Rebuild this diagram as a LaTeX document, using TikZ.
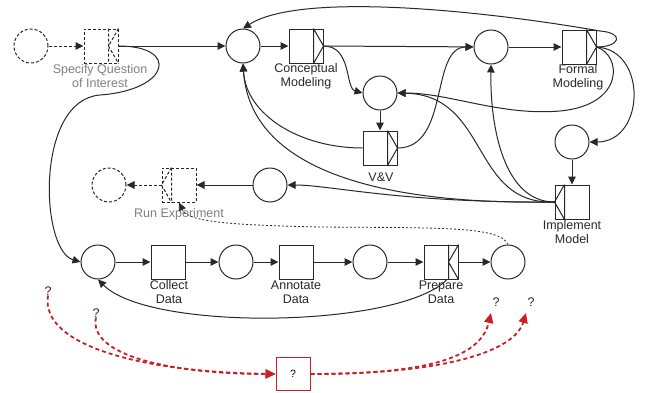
\documentclass[tikz,border=0pt]{standalone}
\usepackage{fontspec}
\setmainfont{Liberation Sans}
\usetikzlibrary{arrows.meta}
\definecolor{ink}{RGB}{40,40,40}
\definecolor{redc}{RGB}{200,32,38}
\definecolor{greyt}{RGB}{128,128,128}
\newcommand\decRt[2][]{\draw[ink,line width=1pt,#1] ([xshift=-10pt]#2.north east) -- ([xshift=-10pt]#2.south east) ([xshift=-10pt]#2.north east) -- (#2.east) -- ([xshift=-10pt]#2.south east);}
\newcommand\decLt[2][]{\draw[ink,line width=1pt,#1] ([xshift=10pt]#2.north west) -- ([xshift=10pt]#2.south west) ([xshift=10pt]#2.north west) -- (#2.west) -- ([xshift=10pt]#2.south west);}
\newcommand\decKt[2][]{\draw[ink,line width=1pt,#1] ([xshift=-10pt]#2.north east) -- ([xshift=-10pt]#2.south east) (#2.north east) -- ([xshift=-10pt]#2.east) -- (#2.south east);}
\begin{document}
\begin{tikzpicture}[x=1pt,y=-1pt,
  circ/.style={circle,draw=ink,line width=1pt,minimum size=34pt,inner sep=0pt},
  dcirc/.style={circ,dash pattern=on 3pt off 2pt},
  boxn/.style={rectangle,draw=ink,line width=1pt,minimum size=34pt,inner sep=0pt},
  dbox/.style={boxn,dash pattern=on 3pt off 2pt},
  qbox/.style={rectangle,draw=redc,line width=1pt,minimum width=34pt,minimum height=33pt,inner sep=0pt,font=\fontsize{10.5}{12}\selectfont},
  lbl/.style={font=\fontsize{12.5}{14}\selectfont,align=center,text=ink,inner sep=0pt},
  conn/.style={draw=ink,line width=1pt,-{Triangle[length=8pt,width=7.5pt]}},
  dconn/.style={conn,dash pattern=on 3pt off 2pt},
  dotconn/.style={conn,line width=0.8pt,dash pattern=on 2pt off 2pt},
  rconn/.style={draw=redc,line width=1.8pt,dash pattern=on 4pt off 3pt,-{Triangle[length=10pt,width=9pt]}}]
\useasboundingbox (0,0) rectangle (646,392);
% nodes
\node[dcirc] (s0) at (31,46) {};
\node[dbox] (spec) at (101,46) {};
\node[circ] (c1) at (243,46) {};
\node[boxn] (cm) at (306,46) {};
\node[circ] (c2) at (491,47) {};
\node[boxn] (fm) at (579,47) {};
\node[circ] (vin) at (380,93) {};
\node[boxn] (vv) at (380,148) {};
\node[circ] (c3) at (572,142) {};
\node[boxn] (im) at (572,202) {};
\node[circ] (c4) at (270,185) {};
\node[dbox] (run) at (179,185) {};
\node[dcirc] (e0) at (109,185) {};
\node[circ] (d1) at (98,262) {};
\node[boxn] (cd) at (168,262) {};
\node[circ] (d2) at (236,262) {};
\node[boxn] (ad) at (296,262) {};
\node[circ] (d3) at (370,262) {};
\node[boxn] (pd) at (441,262) {};
\node[circ] (d4) at (508,262) {};
\node[qbox] (qb) at (293,374) {?};
% compartments
\decKt[dash pattern=on 3pt off 2pt]{spec}
\decRt{cm}
\decRt{fm}
\decRt{vv}
\decLt{im}
\decLt[dash pattern=on 3pt off 2pt]{run}
\decKt{pd}
% labels
\node[lbl,text=greyt] (lspec) at (100,76) {Specify Question\\of Interest};
\node[lbl] (lcm) at (306,76) {Conceptual\\Modeling};
\node[lbl] (lfm) at (578,77) {Formal\\Modeling};
\node[lbl] (lvv) at (381,177) {V\&V};
\node[lbl] (lim) at (572,232) {Implement\\Model};
\node[lbl,text=greyt] (lrun) at (179,214) {Run Experiment};
\node[lbl] (lcd) at (169,292) {Collect\\Data};
\node[lbl] (lad) at (296,292) {Annotate\\Data};
\node[lbl] (lpd) at (441,292) {Prepare\\Data};
\node[lbl] (q1) at (48,291) {?};
\node[lbl] (q2) at (96,313) {?};
\node[lbl] (q3) at (496,302) {?};
\node[lbl] (q4) at (531,302) {?};
\coordinate (t3) at (491,313);
\coordinate (t4) at (526,313);
% connectors
\draw[dconn] (s0) -- (spec);
\draw[conn] (spec.east) -- (c1);
\draw[conn] (c1) -- (cm);
\draw[conn] (cm.east) -- (c2);
\draw[conn] (cm.east) .. controls (352,46) and (345,88) .. (vin.west);
\draw[conn] (c2) -- (fm);
\draw[conn] (fm.east) .. controls (620,47) and (625,33) .. (600,31) .. controls (480,10) and (300,-8) .. (c1.north);
\draw[conn] (fm.east) .. controls (622,55) and (625,105) .. (560,111) .. controls (500,116) and (450,93) .. (vin.east);
\draw[conn] (fm.east) .. controls (648,50) and (645,142) .. (c3.east);
\draw[conn] (c3) -- (im);
\draw[conn] (im.west) .. controls (505,202) and (490,130) .. (c2.south);
\draw[conn] (im.west) .. controls (470,205) and (490,95) .. (vin.east);
\draw[conn] (im.west) .. controls (380,205) and (250,170) .. (c1.south);
\draw[conn] (im.west) .. controls (400,203) and (330,185) .. (c4.east);
\draw[conn] (vv.west) .. controls (300,148) and (246,115) .. (c1.south);
\draw[conn] (vv.east) .. controls (450,148) and (430,47) .. (c2.west);
\draw[conn] (vin) -- (vv);
\draw[conn] (c4) -- (run);
\draw[dconn] (run) -- (e0);
\draw[conn] (spec.east) .. controls (180,46) and (170,90) .. (100,95) .. controls (35,100) and (40,250) .. (d1.west);
\draw[conn] (d1) -- (cd);
\draw[conn] (cd) -- (d2);
\draw[conn] (d2) -- (ad);
\draw[conn] (ad) -- (d3);
\draw[conn] (d3) -- (pd);
\draw[conn] (pd) -- (d4);
\draw[conn] ([xshift=6pt]pd.south) .. controls (400,328) and (150,332) .. (d1.south);
\draw[dotconn] (d4.north) .. controls (500,226) and (440,228) .. (320,227) .. controls (230,225) and (188,222) .. (run.south);
% red
\draw[rconn] (q1.south) .. controls (40,345) and (140,372) .. (qb.west);
\draw[rconn] (q2.south) .. controls (88,355) and (170,374) .. (qb.west);
\draw[rconn] (qb.east) .. controls (420,374) and (480,360) .. (t3);
\draw[rconn] (qb.east) .. controls (450,374) and (515,350) .. (t4);
\end{tikzpicture}
\end{document}
